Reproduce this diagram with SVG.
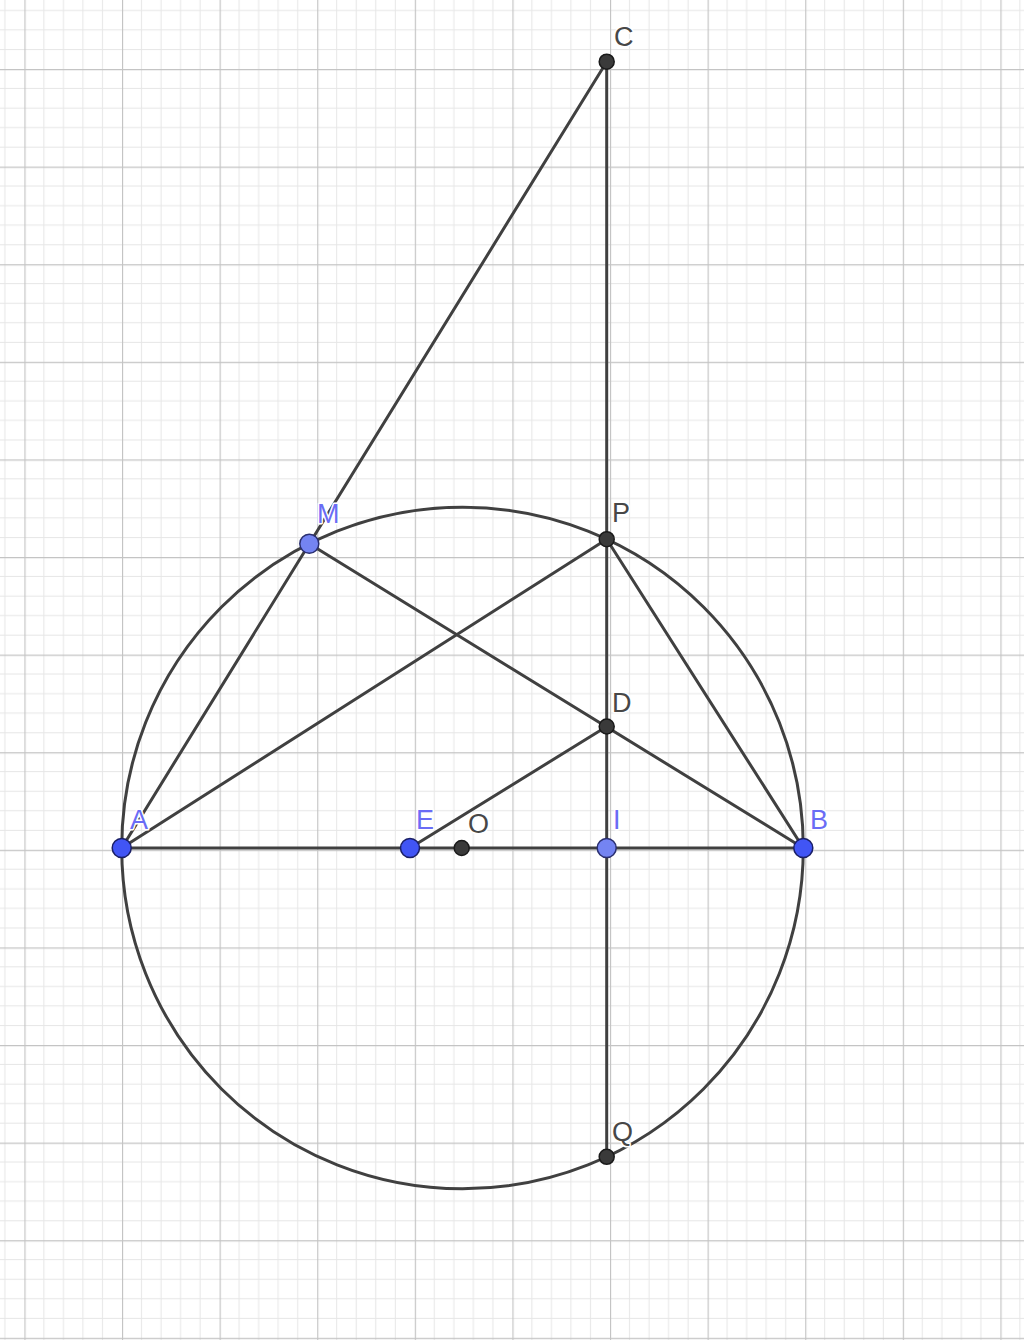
<svg xmlns="http://www.w3.org/2000/svg" width="1024" height="1340" viewBox="0 0 1024 1340">
<style>
.seg{stroke:#404040;stroke-width:3;fill:none;stroke-linecap:round}
.pt-dark{fill:#3a3a3a;stroke:#1a1a1a;stroke-width:1.5}
.pt-free{fill:#4155f5;stroke:#1a1f66;stroke-width:1.5}
.pt-on{fill:#7484f2;stroke:#2a2f70;stroke-width:1.5}
.lbl-dark,.lbl-blue{font-family:"Liberation Sans",Arial,sans-serif;font-size:27px;stroke:#ffffff;stroke-width:3;paint-order:stroke;stroke-linejoin:round}
.lbl-dark{fill:#474747}
.lbl-blue{fill:#6a6cf5}
</style>
<defs>
<pattern id="grid" patternUnits="userSpaceOnUse" x="24.4" y="69" width="97.6" height="97.6">
<g stroke="#e6e6e6" stroke-width="1">
<line x1="19.52" y1="0" x2="19.52" y2="97.6"/>
<line x1="39.04" y1="0" x2="39.04" y2="97.6"/>
<line x1="58.56" y1="0" x2="58.56" y2="97.6"/>
<line x1="78.08" y1="0" x2="78.08" y2="97.6"/>
<line x1="0" y1="19.52" x2="97.6" y2="19.52"/>
<line x1="0" y1="39.04" x2="97.6" y2="39.04"/>
<line x1="0" y1="58.56" x2="97.6" y2="58.56"/>
<line x1="0" y1="78.08" x2="97.6" y2="78.08"/>
</g>
<g stroke="#c4c4c4" stroke-width="1.3">
<line x1="0.5" y1="0" x2="0.5" y2="97.6"/>
<line x1="0" y1="0.5" x2="97.6" y2="0.5"/>
</g>
</pattern>
</defs>
<rect width="1024" height="1340" fill="#ffffff"/>
<rect width="1024" height="1340" fill="url(#grid)"/>
<g id="connectors">
<circle class="seg" cx="462.5" cy="848" r="340.8"/>
<line class="seg" x1="121.7" y1="848" x2="606.7" y2="61.7"/>
<line class="seg" x1="606.7" y1="61.7" x2="606.7" y2="1156.8"/>
<line class="seg" x1="121.7" y1="848" x2="803.3" y2="848"/>
<line class="seg" x1="309.3" y1="543.8" x2="803.3" y2="848"/>
<line class="seg" x1="121.7" y1="848" x2="606.7" y2="539.2"/>
<line class="seg" x1="606.7" y1="539.2" x2="803.3" y2="848"/>
<line class="seg" x1="410" y1="848" x2="606.7" y2="726.5"/>
</g>
<g id="node-C"><circle class="pt-dark" cx="606.7" cy="61.7" r="7.5"/><text class="lbl-dark" x="614" y="46">C</text></g>
<g id="node-M"><circle class="pt-on" cx="309.3" cy="543.8" r="9.5"/><text class="lbl-blue" x="317" y="523">M</text></g>
<g id="node-P"><circle class="pt-dark" cx="606.7" cy="539.2" r="7.5"/><text class="lbl-dark" x="612" y="522">P</text></g>
<g id="node-D"><circle class="pt-dark" cx="606.7" cy="726.5" r="7.5"/><text class="lbl-dark" x="612" y="712">D</text></g>
<g id="node-A"><circle class="pt-free" cx="121.7" cy="848" r="9.5"/><text class="lbl-blue" x="130" y="829">A</text></g>
<g id="node-E"><circle class="pt-free" cx="410" cy="848" r="9.5"/><text class="lbl-blue" x="416" y="829">E</text></g>
<g id="node-O"><circle class="pt-dark" cx="461.7" cy="848" r="7.5"/><text class="lbl-dark" x="468" y="833">O</text></g>
<g id="node-I"><circle class="pt-on" cx="606.7" cy="848" r="9.5"/><text class="lbl-blue" x="613" y="829">I</text></g>
<g id="node-B"><circle class="pt-free" cx="803.3" cy="848" r="9.5"/><text class="lbl-blue" x="810" y="829">B</text></g>
<g id="node-Q"><circle class="pt-dark" cx="606.7" cy="1156.8" r="7.5"/><text class="lbl-dark" x="612" y="1141">Q</text></g>
</svg>
